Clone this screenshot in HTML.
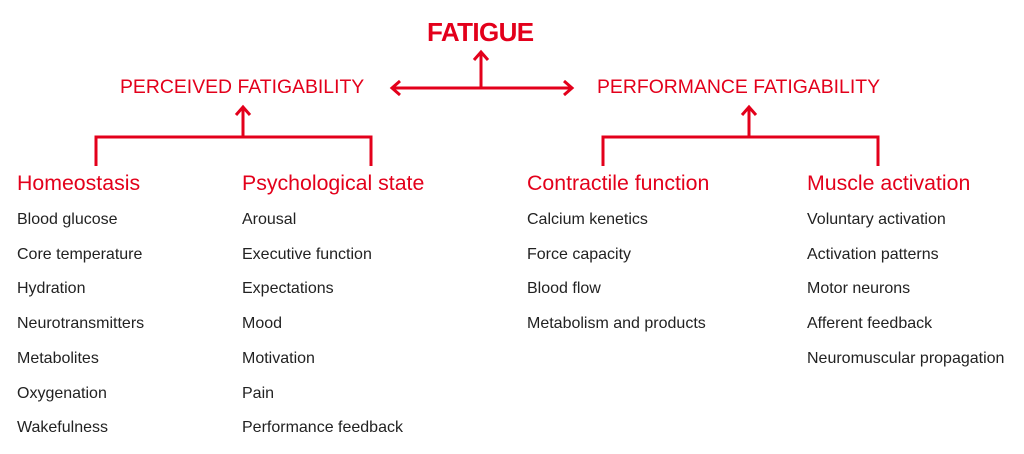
<!DOCTYPE html>
<html><head><meta charset="utf-8"><style>
body{margin:0;width:1024px;height:454px;background:#fff;position:relative;font-family:"Liberation Sans",sans-serif;overflow:hidden}
.t{position:absolute;white-space:nowrap;line-height:1}
.r{color:#e3001b}
.it{font-size:16px;color:#222}
.cat{font-size:21.3px;color:#e3001b}
.hd{font-size:19.4px;color:#e3001b}
</style></head><body>
<svg width="1024" height="454" style="position:absolute;left:0;top:0" fill="none" stroke="#e3001b" stroke-width="3">
<path d="M481 88V52M474 60L481 52L488 60"/>
<path d="M393 88H571M400 81L392 88L400 95M564 81L572 88L564 95"/>
<path d="M96 166V137H371V166M243 137V107M236 115L243 107L250 115"/>
<path d="M603 166V137H878V166M749 137V107M742 115L749 107L756 115"/>
</svg>
<div class="t r" style="left:427px;top:19px;font-size:26px;font-weight:bold;letter-spacing:-0.6px">FATIGUE</div>
<div class="t hd" style="left:120px;top:78px">PERCEIVED FATIGABILITY</div>
<div class="t hd" style="left:597px;top:78px">PERFORMANCE FATIGABILITY</div>
<div class="t cat" style="left:17px;top:173px">Homeostasis</div>
<div class="t cat" style="left:242px;top:173px">Psychological state</div>
<div class="t cat" style="left:527px;top:173px">Contractile function</div>
<div class="t cat" style="left:807px;top:173px">Muscle activation</div>
<div class="t it" style="left:17px;top:203px;line-height:34.7px">Blood glucose<br>Core temperature<br>Hydration<br>Neurotransmitters<br>Metabolites<br>Oxygenation<br>Wakefulness</div>
<div class="t it" style="left:242px;top:203px;line-height:34.7px">Arousal<br>Executive function<br>Expectations<br>Mood<br>Motivation<br>Pain<br>Performance feedback</div>
<div class="t it" style="left:527px;top:203px;line-height:34.7px">Calcium kenetics<br>Force capacity<br>Blood flow<br>Metabolism and products</div>
<div class="t it" style="left:807px;top:203px;line-height:34.7px">Voluntary activation<br>Activation patterns<br>Motor neurons<br>Afferent feedback<br>Neuromuscular propagation</div>
</body></html>
